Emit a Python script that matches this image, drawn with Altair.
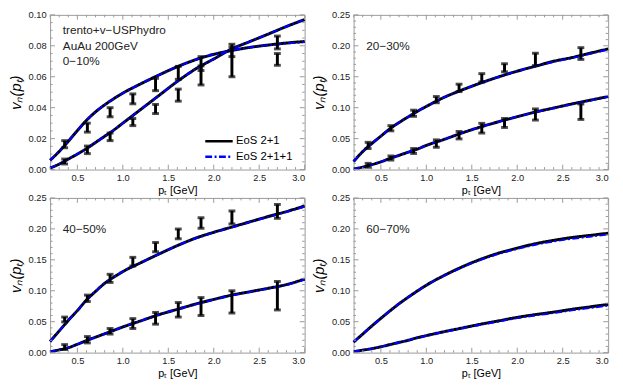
import altair as alt
import pandas as pd

FONT = "Liberation Sans"
FRAME = "#9a9a9a"
EOS = ["EoS 2+1", "EoS 2+1+1"]

# model curves (pT grid)
pt_grid = [0.2, 0.3, 0.4, 0.5, 0.6, 0.7, 0.8, 0.9, 1.0, 1.2, 1.4, 1.6, 1.8, 2.0, 2.2, 2.4, 2.6, 2.8, 3.0]

# 0-10%
c1_v2_a = [0.006, 0.0117, 0.0183, 0.0252, 0.0318, 0.0373, 0.0418, 0.0458, 0.0494, 0.0555, 0.0612, 0.0665, 0.071, 0.0745, 0.077, 0.079, 0.0805, 0.0818, 0.0828]
c1_v2_b = [0.006, 0.0117, 0.0183, 0.0252, 0.0318, 0.0373, 0.0418, 0.0458, 0.0494, 0.0555, 0.0612, 0.0665, 0.071, 0.0745, 0.077, 0.079, 0.0803, 0.0815, 0.0824]
c1_v3_a = [0.001, 0.0035, 0.0068, 0.010, 0.0135, 0.0175, 0.0215, 0.0255, 0.030, 0.039, 0.048, 0.057, 0.065, 0.0715, 0.078, 0.0828, 0.0876, 0.0925, 0.097]
c1_v3_b = [0.001, 0.0035, 0.0068, 0.010, 0.0135, 0.0175, 0.0215, 0.0255, 0.030, 0.039, 0.048, 0.057, 0.065, 0.0715, 0.078, 0.0828, 0.0876, 0.0925, 0.0968]
# 20-30%
c2_v2_a = [0.013, 0.029, 0.042, 0.054, 0.066, 0.076, 0.085, 0.094, 0.102, 0.117, 0.129, 0.140, 0.150, 0.159, 0.167, 0.175, 0.181, 0.188, 0.195]
c2_v2_b = [0.013, 0.029, 0.042, 0.054, 0.066, 0.076, 0.085, 0.094, 0.102, 0.117, 0.129, 0.140, 0.150, 0.159, 0.167, 0.174, 0.180, 0.187, 0.194]
c2_v3_a = [0.001, 0.004, 0.008, 0.0125, 0.018, 0.023, 0.028, 0.033, 0.039, 0.049, 0.0595, 0.069, 0.0775, 0.0855, 0.093, 0.0995, 0.106, 0.112, 0.118]
c2_v3_b = [0.001, 0.004, 0.008, 0.0125, 0.018, 0.023, 0.028, 0.033, 0.039, 0.049, 0.0595, 0.069, 0.0775, 0.0855, 0.0925, 0.099, 0.1055, 0.1115, 0.1175]
# 40-50%
c3_v2_a = [0.018, 0.035, 0.052, 0.068, 0.085, 0.099, 0.112, 0.122, 0.131, 0.1455, 0.1595, 0.173, 0.185, 0.1945, 0.203, 0.2115, 0.220, 0.228, 0.237]
c3_v2_b = [0.018, 0.035, 0.052, 0.068, 0.085, 0.099, 0.112, 0.122, 0.131, 0.1455, 0.1595, 0.173, 0.1845, 0.194, 0.2025, 0.211, 0.2193, 0.2273, 0.236]
c3_v3_a = [0.0015, 0.0045, 0.008, 0.0135, 0.0195, 0.025, 0.0305, 0.036, 0.0415, 0.0515, 0.0615, 0.070, 0.0785, 0.086, 0.093, 0.0985, 0.104, 0.110, 0.119]
c3_v3_b = [0.0015, 0.0045, 0.008, 0.0135, 0.0195, 0.025, 0.0305, 0.036, 0.0415, 0.0515, 0.0615, 0.070, 0.078, 0.0855, 0.0925, 0.098, 0.1035, 0.1095, 0.118]
# 60-70%
c4_v2_a = [0.017, 0.030, 0.043, 0.0555, 0.0675, 0.079, 0.0895, 0.0995, 0.109, 0.125, 0.139, 0.151, 0.161, 0.169, 0.176, 0.1815, 0.186, 0.1895, 0.193]
c4_v2_b = [0.017, 0.030, 0.043, 0.0555, 0.0675, 0.079, 0.0895, 0.0995, 0.109, 0.1246, 0.1382, 0.1500, 0.1598, 0.1676, 0.1744, 0.1797, 0.1840, 0.1874, 0.191]
c4_v3_a = [0.0015, 0.004, 0.0065, 0.0095, 0.013, 0.0165, 0.020, 0.024, 0.0275, 0.034, 0.040, 0.046, 0.0515, 0.057, 0.0615, 0.0655, 0.070, 0.074, 0.078]
c4_v3_b = [0.0015, 0.004, 0.0065, 0.0095, 0.013, 0.0165, 0.020, 0.024, 0.0272, 0.0335, 0.0395, 0.0452, 0.0505, 0.0558, 0.0602, 0.064, 0.0683, 0.0722, 0.076]

# data points with error ranges
pt_data = [0.36, 0.61, 0.86, 1.11, 1.36, 1.61, 1.86, 2.2, 2.7]
d1_v2_lo = [0.0141, 0.0242, 0.0341, 0.0425, 0.051, 0.0583, 0.064, 0.073, 0.078]
d1_v2_hi = [0.0187, 0.0300, 0.0400, 0.0489, 0.059, 0.0667, 0.073, 0.081, 0.0863]
d1_v3_lo = [0.0036, 0.0103, 0.0187, 0.0284, 0.0362, 0.0442, 0.0547, 0.060, 0.0674]
d1_v3_hi = [0.0068, 0.0152, 0.0236, 0.0330, 0.0421, 0.0520, 0.067, 0.079, 0.075]
d2_v2_lo = [0.034, 0.0626, 0.086, 0.108, 0.126, 0.1416, 0.158, 0.168, 0.178]
d2_v2_hi = [0.044, 0.071, 0.096, 0.118, 0.138, 0.155, 0.171, 0.188, 0.197]
d2_v3_lo = [0.0037, 0.0153, 0.026, 0.036, 0.0495, 0.059, 0.068, 0.080, 0.081]
d2_v3_hi = [0.010, 0.022, 0.034, 0.048, 0.0616, 0.0747, 0.0826, 0.098, 0.106]
d3_v2_lo = [0.0497, 0.0826, 0.1135, 0.140, 0.163, 0.184, 0.201, 0.208, 0.217]
d3_v2_hi = [0.0575, 0.093, 0.1266, 0.154, 0.178, 0.1998, 0.218, 0.229, 0.2395]
d3_v3_lo = [0.005, 0.0157, 0.030, 0.039, 0.046, 0.0575, 0.060, 0.064, 0.069]
d3_v3_hi = [0.013, 0.026, 0.039, 0.055, 0.065, 0.081, 0.089, 0.100, 0.115]

labels = ["trento+v\u2212USPhydro\nAuAu 200GeV\n0\u221210%", "20\u221230%", "40\u221250%", "60\u221270%"]

x_major = [0.5, 1.0, 1.5, 2.0, 2.5, 3.0]
x_minor = [0.2, 0.3, 0.4, 0.6, 0.7, 0.8, 0.9, 1.1, 1.2, 1.3, 1.4, 1.6, 1.7, 1.8, 1.9, 2.1, 2.2, 2.3, 2.4, 2.6, 2.7, 2.8, 2.9]
y1_major = [0.0, 0.02, 0.04, 0.06, 0.08, 0.10]
y1_minor = [0.005, 0.01, 0.015, 0.025, 0.03, 0.035, 0.045, 0.05, 0.055, 0.065, 0.07, 0.075, 0.085, 0.09, 0.095]
y2_major = [0.0, 0.05, 0.10, 0.15, 0.20, 0.25]
y2_minor = [0.01, 0.02, 0.03, 0.04, 0.06, 0.07, 0.08, 0.09, 0.11, 0.12, 0.13, 0.14, 0.16, 0.17, 0.18, 0.19, 0.21, 0.22, 0.23, 0.24]

W, H = 260, 158


def curve_df(v2a, v3a, v2b, v3b):
    rows = []
    for eos, v2, v3 in [(EOS[0], v2a, v3a), (EOS[1], v2b, v3b)]:
        for n, arr in [("v2", v2), ("v3", v3)]:
            for x, y in zip(pt_grid, arr):
                rows.append({"pt": x, "vn": y, "eos": eos, "n": n})
    return pd.DataFrame(rows)


def point_df(v2lo, v2hi, v3lo, v3hi):
    rows = []
    for n, lo, hi in [("v2", v2lo, v2hi), ("v3", v3lo, v3hi)]:
        for x, a, b in zip(pt_data, lo, hi):
            rows.append({"pt": x, "lo": a, "hi": b, "n": n})
    return pd.DataFrame(rows)


def panel(curves, points, ymax, ymaj, ymin, label, legend):
    xs = alt.Scale(domain=[0.2, 3.0], nice=False, zero=False)
    ys = alt.Scale(domain=[0, ymax], nice=False, zero=False)
    xa = alt.Axis(values=x_major, format=".1f", title="p\u209c [GeV]")
    ya = alt.Axis(values=ymaj, format=".2f", title="v\u2099(p\u209c)")
    if legend:
        leg = alt.Legend(title=None, orient="none", legendX=157, legendY=123,
                         symbolType="stroke", symbolSize=784, symbolStrokeWidth=2.6,
                         clipHeight=12, rowPadding=4, labelOffset=2, padding=0,
                         labelFont=FONT, labelFontSize=11.5, labelColor="black")
    else:
        leg = None
    color = alt.Color("eos:N", scale=alt.Scale(domain=EOS, range=["black", "#0000ff"]), legend=leg)
    dash = alt.StrokeDash("eos:N", scale=alt.Scale(domain=EOS, range=[[1, 0], [7, 2.5, 2, 2.5]]), legend=leg)
    layers = []
    for eos, sw in [(EOS[0], 3), (EOS[1], 2)]:
        layers.append(
            alt.Chart(curves).transform_filter(alt.datum.eos == eos)
            .mark_line(strokeWidth=sw, interpolate="monotone")
            .encode(x=alt.X("pt:Q", scale=xs, axis=xa), y=alt.Y("vn:Q", scale=ys, axis=ya),
                    color=color, strokeDash=dash, detail="n:N")
        )
    # inner frame ticks
    for vals, ln in [(x_major, 5), (x_minor, 2.5)]:
        base = alt.Chart(pd.DataFrame({"t": vals})).mark_rule(color=FRAME, strokeWidth=1)
        layers.append(base.encode(x=alt.X("t:Q", scale=xs, axis=xa), y=alt.value(0), y2=alt.value(ln)))
        layers.append(base.encode(x=alt.X("t:Q", scale=xs, axis=xa), y=alt.value(H), y2=alt.value(H - ln)))
    for vals, ln in [(ymaj, 5), (ymin, 2.5)]:
        base = alt.Chart(pd.DataFrame({"t": vals})).mark_rule(color=FRAME, strokeWidth=1)
        layers.append(base.encode(y=alt.Y("t:Q", scale=ys, axis=ya), x=alt.value(0), x2=alt.value(ln)))
        layers.append(base.encode(y=alt.Y("t:Q", scale=ys, axis=ya), x=alt.value(W), x2=alt.value(W - ln)))
    if points is not None:
        layers.append(
            alt.Chart(points).mark_errorbar(ticks=True, size=7, thickness=3, color="black")
            .encode(x=alt.X("pt:Q", scale=xs, axis=xa), y=alt.Y("lo:Q", scale=ys, axis=ya), y2="hi:Q")
        )
    layers.append(
        alt.Chart(pd.DataFrame({"txt": [label]})).mark_text(
            align="left", baseline="top", font=FONT, fontSize=12, lineBreak="\n",
            lineHeight=15.5, color="#222")
        .encode(text="txt:N", x=alt.value(13), y=alt.value(11 if legend else 27))
    )
    return alt.layer(*layers).properties(width=W, height=H)


p1 = panel(curve_df(c1_v2_a, c1_v3_a, c1_v2_b, c1_v3_b), point_df(d1_v2_lo, d1_v2_hi, d1_v3_lo, d1_v3_hi),
           0.10, y1_major, y1_minor, labels[0], True)
p2 = panel(curve_df(c2_v2_a, c2_v3_a, c2_v2_b, c2_v3_b), point_df(d2_v2_lo, d2_v2_hi, d2_v3_lo, d2_v3_hi),
           0.25, y2_major, y2_minor, labels[1], False)
p3 = panel(curve_df(c3_v2_a, c3_v3_a, c3_v2_b, c3_v3_b), point_df(d3_v2_lo, d3_v2_hi, d3_v3_lo, d3_v3_hi),
           0.25, y2_major, y2_minor, labels[2], False)
p4 = panel(curve_df(c4_v2_a, c4_v3_a, c4_v2_b, c4_v3_b), None,
           0.25, y2_major, y2_minor, labels[3], False)

chart = (
    alt.concat(p1, p2, p3, p4, columns=2, spacing={"row": 29, "column": 50}, bounds="flush")
    .resolve_scale(color="independent", strokeDash="independent")
    .properties(padding={"left": 0, "top": -3, "right": 0, "bottom": 0})
    .configure(font=FONT)
    .configure_view(stroke=FRAME, strokeWidth=1)
    .configure_axis(domain=False, ticks=False, tickSize=0, grid=False,
                    labelFont=FONT, labelFontSize=9.5, labelColor="#222",
                    titleFont=FONT, titleColor="black", titleFontWeight="normal")
    .configure_axisX(labelPadding=3, titlePadding=3, titleFontSize=11)
    .configure_axisY(labelPadding=4, titlePadding=5, titleFontSize=15, titleFontStyle="italic")
)

chart.save("out.html", embed_options={"renderer": "svg", "actions": False})
